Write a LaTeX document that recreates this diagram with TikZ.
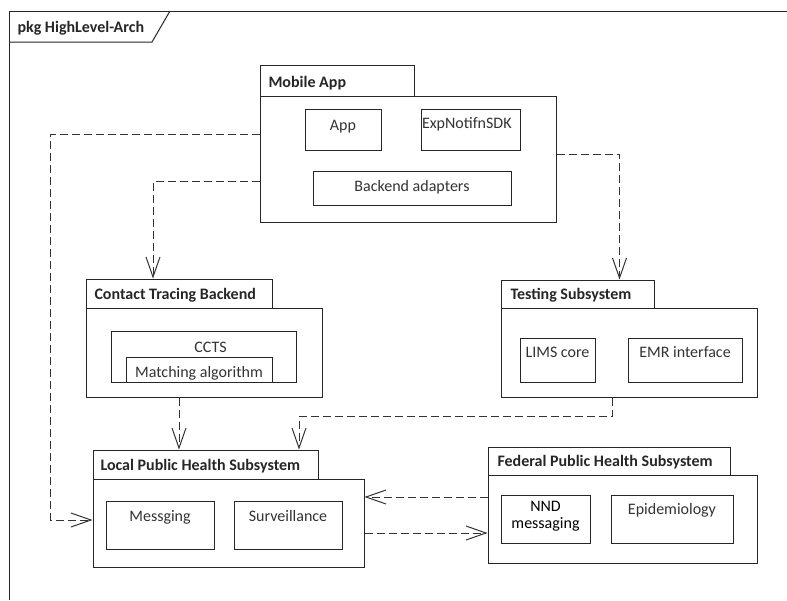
\documentclass[tikz,border=0pt]{standalone}
\usepackage{fontspec}
\setmainfont{Carlito}
\usetikzlibrary{arrows.meta,fit,calc}
\begin{document}
\begin{tikzpicture}[x=1pt,y=-1pt,
  line width=1pt,
  frame/.style={draw=black!85},
  box/.style={draw=black!85, inner sep=0pt, fit={#1}},
  ttl/.style={font=\fontsize{16}{19}\selectfont\bfseries, text=black!85, anchor=base west, inner sep=0pt},
  lbl/.style={font=\fontsize{16}{19}\selectfont, text=black!80, anchor=base, inner sep=0pt},
  dep/.style={draw=black!80, dash pattern=on 8pt off 4pt, -{Straight Barb[length=20pt,width=14pt,line width=1pt]}}
]
\useasboundingbox[fill=white] (0,0) rectangle (787,600);
% outer frame
\draw[frame] (9,600) -- (9,11) -- (787,11);
\draw[frame] (9,42) -- (152,42) -- (170,11);
\node[ttl] (pkg) at (17,32) {pkg HighLevel-Arch};

% Mobile App
\node[box={(260,65) (414,96)}] (mobt) {};
\node[box={(260,96) (556,222)}] (mob) {};
\node[ttl] (mobl) at (268,87) {Mobile App};
\node[box={(305,109) (381,150)}] (app) {};
\node[lbl] at ([yshift=-22pt]app.north) (appl) {App};
\node[box={(421,109) (520,150)}] (sdk) {};
\node[lbl, anchor=base west] at ([xshift=1pt,yshift=-20pt]sdk.north west) (sdkl) {ExpNotifnSDK};
\node[box={(313,171) (511,205)}] (bad) {};
\node[lbl] at ([yshift=-21pt]bad.north) (badl) {Backend adapters};

% Contact Tracing Backend
\node[box={(86,279) (272,308)}] (ctt) {};
\node[box={(86,308) (322,397)}] (ctb) {};
\node[ttl] (ctl) at (94,299) {Contact Tracing Backend};
\node[box={(111,331) (296,382)}] (ccts) {};
\node[lbl] at ([xshift=7pt,yshift=-22pt]ccts.north) (cctsl) {CCTS};
\draw[draw=black!85] (126,382) -- (126,357) -- (272,357) -- (272,382);
\node[inner sep=0pt, fit={(126,357) (272,382)}] (match) {};
\node[lbl] at ([yshift=-21pt]match.north) (matchl) {Matching algorithm};

% Testing Subsystem
\node[box={(501,280) (654,308)}] (tstt) {};
\node[box={(501,308) (757,397)}] (tstb) {};
\node[ttl] (tstl) at (510,299) {Testing Subsystem};
\node[box={(520,338) (595,382)}] (lims) {};
\node[lbl] at ([yshift=-20pt]lims.north) (limsl) {LIMS core};
\node[box={(628,338) (742,382)}] (emr) {};
\node[lbl] at ([yshift=-20pt]emr.north) (emrl) {EMR interface};

% Local Public Health Subsystem
\node[box={(93,450) (318,479)}] (loct) {};
\node[box={(93,479) (364,567)}] (locb) {};
\node[ttl] (locl) at (100,470) {Local Public Health Subsystem};
\node[box={(106,501) (214,549)}] (msg) {};
\node[lbl] at ([yshift=-21pt]msg.north) (msgl) {Messging};
\node[box={(234,501) (342,549)}] (surv) {};
\node[lbl] at ([yshift=-21pt]surv.north) (survl) {Surveillance};

% Federal Public Health Subsystem
\node[box={(488,447) (730,475)}] (fedt) {};
\node[box={(488,475) (757,563)}] (fedb) {};
\node[ttl] (fedl) at (497,466) {Federal Public Health Subsystem};
\node[box={(501,495) (590,543)}] (nnd) {};
\node[lbl, text=black, align=center, anchor=north] at ([yshift=-6pt]nnd.north) (nndl) {NND\\[-2pt]messaging};
\node[box={(611,495) (733,543)}] (epi) {};
\node[lbl] at ([yshift=-20pt]epi.north) (epil) {Epidemiology};

% connectors
\draw[dep] ([yshift=25pt]mob.west) -| ([xshift=-42pt,yshift=3pt]locb.west) -- ([yshift=3pt]locb.west);
\draw[dep] ([yshift=-22pt]mob.west) -| ([xshift=-26pt]ctt.north);
\draw[dep] ([yshift=5pt]mob.east) -| ([xshift=42pt]tstt.north);
\draw[dep] ([xshift=-25pt]ctb.south) -- ([xshift=-25pt]ctb.south |- loct.north);
\draw[dep] ([xshift=-17pt]tstb.south) -- ++(0,19) -| ([xshift=93.5pt]loct.north);
\draw[dep] ([yshift=22pt]fedb.west) -- ([yshift=22pt]fedb.west -| locb.east);
\draw[dep] ([yshift=-10pt]locb.east) -- ([yshift=-10pt]locb.east -| fedb.west);
\end{tikzpicture}
\end{document}
